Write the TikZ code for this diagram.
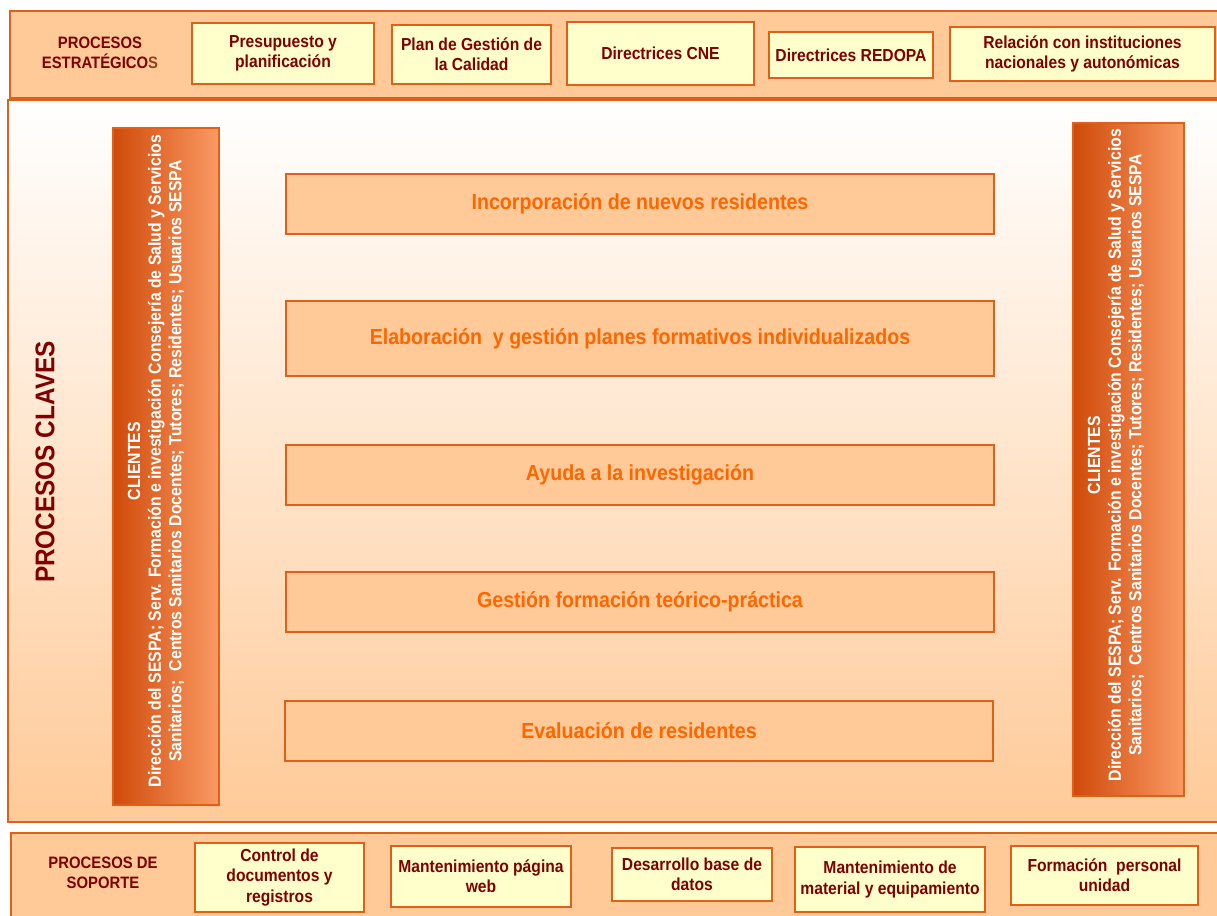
\documentclass[tikz,border=0pt]{standalone}
\usepackage{fontspec}
\setmainfont[FakeStretch=0.9]{Liberation Sans}
\definecolor{peach}{HTML}{FFCA98}
\definecolor{bord}{HTML}{E0601A}
\definecolor{pale}{HTML}{FFFFCC}
\definecolor{maroon}{HTML}{800000}
\definecolor{orangetxt}{HTML}{FF6600}
\definecolor{cdark}{HTML}{D04A0A}
\definecolor{clight}{HTML}{FA9A64}
\definecolor{brownS}{HTML}{94401A}
\tikzset{
  wh/.style 2 args={minimum width={#1*0.02cm}, minimum height={#2*0.02cm}},
  band/.style={draw=bord, line width=0.8pt, fill=peach, inner sep=0pt},
  midband/.style={draw=bord, line width=0.8pt, top color=white, bottom color=peach, inner sep=0pt},
  ybox/.style={draw=bord, line width=0.8pt, fill=pale, inner sep=0pt, align=center,
    text=maroon, font=\fontsize{9.9}{11.6}\selectfont\bfseries},
  kbox/.style={draw=bord, line width=0.8pt, fill=peach, inner sep=0pt, align=center,
    text=orangetxt, font=\fontsize{12.4}{14}\selectfont\bfseries},
  cbox/.style={draw=bord, line width=0.8pt, left color=cdark, right color=clight, inner sep=0pt},
  ctext/.style={rotate=90, align=center, text=white, font=\fontsize{10}{11.7}\selectfont\bfseries},
  blabel/.style={align=center, text=maroon, font=\fontsize{9.4}{11.6}\selectfont\bfseries},
}
\begin{document}
\begin{tikzpicture}[x=0.02cm, y=-0.02cm]
\useasboundingbox (0,0) rectangle (1217,916);
\clip (0,0) rectangle (1217,916);
% bands
\node[band, wh={1215}{87}] (top) at (617.5,54.5) {};
\node[midband, wh={1217}{722}] (mid) at (616.5,461) {};
\node[band, wh={1214}{97}] (bot) at (618,881.5) {};
% strategic
\node[blabel] (estr) at (100,53) {PROCESOS\\ESTRATÉGICO{\color{brownS}S}};
\node[ybox, wh={182}{61}] (pres) at (283,53.5) {Presupuesto y\\planificación};
\node[ybox, wh={159}{59}] (plan) at (471.5,54.5) {Plan de Gestión de\\la Calidad};
\node[ybox, wh={187}{63}] (cne) at (660.5,53.5) {Directrices CNE};
\node[ybox, wh={164}{46}] (redopa) at (851,55) {Directrices REDOPA};
\node[ybox, wh={265}{54}] (rel) at (1082.5,54) {Relación con instituciones\\nacionales y autonómicas};
% key processes
\node[rotate=90, text=maroon, font=\fontsize{15.4}{18}\selectfont\bfseries] (claves) at (45,462) {PROCESOS CLAVES};
\node[cbox, wh={106}{677}] (cl) at (166,466.5) {};
\node[cbox, wh={111}{673}] (cr) at (1128.5,459.5) {};
\node[ctext] (clt) at (156,461) {CLIENTES\\Dirección del SESPA; Serv. Formación e investigación Consejería de Salud y Servicios\\Sanitarios;~ Centros Sanitarios Docentes; Tutores; Residentes; Usuarios SESPA};
\node[ctext] (crt) at (1116,455) {CLIENTES\\Dirección del SESPA; Serv. Formación e investigación Consejería de Salud y Servicios\\Sanitarios;~ Centros Sanitarios Docentes; Tutores; Residentes; Usuarios SESPA};
\node[kbox, wh={708}{60}] (inc) at (640,204) {Incorporación de nuevos residentes};
\node[kbox, wh={708}{75}] (ela) at (640,338.5) {Elaboración~ y gestión planes formativos individualizados};
\node[kbox, wh={708}{60}] (ayu) at (640,475) {Ayuda a la investigación};
\node[kbox, wh={708}{60}] (ges) at (640,602) {Gestión formación teórico-práctica};
\node[kbox, wh={708}{60}] (eva) at (639,731) {Evaluación de residentes};
% support
\node[blabel] (sop) at (103,873) {PROCESOS DE\\SOPORTE};
\node[ybox, wh={169}{69}] (ctrl) at (279.5,877.5) {Control de\\documentos y\\registros};
\node[ybox, wh={180}{61}] (web) at (481,876.5) {Mantenimiento página\\web};
\node[ybox, wh={160}{53}] (db) at (692,874.5) {Desarrollo base de\\datos};
\node[ybox, wh={190}{65}] (mat) at (890,879.5) {Mantenimiento de\\material y equipamiento};
\node[ybox, wh={187}{59}] (form) at (1104.5,875.5) {Formación~ personal\\unidad};
\end{tikzpicture}
\end{document}
